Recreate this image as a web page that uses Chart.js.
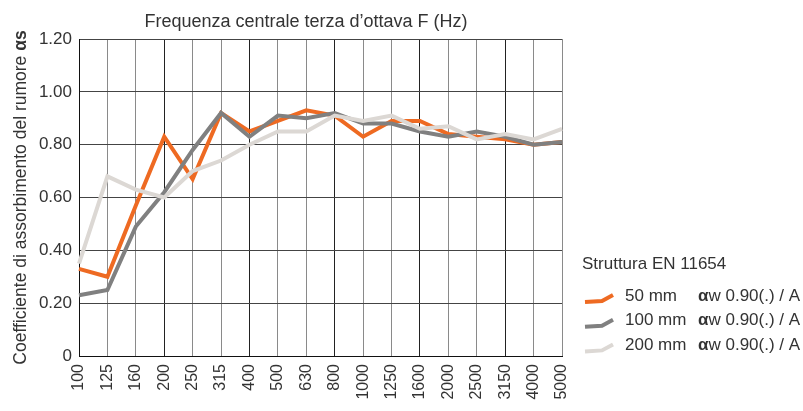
<!DOCTYPE html>
<html>
<head>
<meta charset="utf-8">
<script src="https://cdn.jsdelivr.net/npm/chart.js@4.4.0/dist/chart.umd.min.js"></script>
<style>
  html, body { margin: 0; padding: 0; background: #fff; }
  #wrap { width: 803px; height: 411px; position: relative; }
</style>
</head>
<body>
<div id="wrap"><canvas id="chart"></canvas></div>
<script>
const frequenze = ["100", "125", "160", "200", "250", "315", "400", "500", "630", "800",
  "1000", "1250", "1600", "2000", "2500", "3150", "4000", "5000"];
const valori50 = [0.33, 0.30, 0.57, 0.83, 0.67, 0.92, 0.85, 0.89, 0.93, 0.91,
  0.83, 0.89, 0.89, 0.84, 0.83, 0.82, 0.80, 0.81];
const valori100 = [0.23, 0.25, 0.49, 0.62, 0.78, 0.92, 0.83, 0.91, 0.90, 0.92,
  0.88, 0.88, 0.85, 0.83, 0.85, 0.83, 0.80, 0.81];
const valori200 = [0.35, 0.68, 0.63, 0.60, 0.70, 0.74, 0.80, 0.85, 0.85, 0.91,
  0.89, 0.91, 0.86, 0.87, 0.82, 0.84, 0.82, 0.86];
const spessori = ["50 mm", "100 mm", "200 mm"];
const indici = ["0.90(.) / A", "0.90(.) / A", "0.90(.) / A"];
const colori = ["#ee6a22", "#808080", "#dcd8d4"];

const titolo = "Frequenza centrale terza d\u2019ottava F (Hz)";
const titoloY = "Coefficiente di assorbimento del rumore ";
const legendaTitolo = "Struttura EN 11654";
const font = '"Liberation Sans", Arial, sans-serif';

// titolo, asse y e legenda disegnati a mano
const decorazioni = {
  id: "decorazioni",
  afterDraw(chart) {
    const ctx = chart.ctx;
    const a = chart.chartArea;
    ctx.save();
    ctx.fillStyle = "#333";
    ctx.textBaseline = "middle";

    ctx.font = "18px " + font;
    ctx.textAlign = "center";
    ctx.fillText(titolo, 306, 22);

    // titolo asse y con "αs" in grassetto
    ctx.save();
    ctx.translate(21, (a.top + a.bottom) / 2);
    ctx.rotate(-Math.PI / 2);
    ctx.textAlign = "left";
    ctx.font = "17.5px " + font;
    const w1 = ctx.measureText(titoloY).width;
    ctx.font = "bold 17.5px " + font;
    const w2 = ctx.measureText("\u03b1s").width;
    let x = -(w1 + w2) / 2;
    ctx.font = "17.5px " + font;
    ctx.fillText(titoloY, x, 0);
    ctx.font = "bold 17.5px " + font;
    ctx.fillText("\u03b1s", x + w1, 0);
    ctx.restore();

    // legenda
    ctx.textAlign = "left";
    ctx.font = "17px " + font;
    ctx.fillText(legendaTitolo, 582, 264);
    spessori.forEach((s, i) => {
      const y = 296 + i * 24.7;
      ctx.strokeStyle = colori[i];
      ctx.lineWidth = 4;
      ctx.lineJoin = "miter";
      ctx.beginPath();
      ctx.moveTo(585, y + 6);
      ctx.lineTo(602, y + 5);
      ctx.lineTo(613, y - 1);
      ctx.stroke();
      ctx.fillStyle = "#333";
      ctx.font = "17px " + font;
      ctx.fillText(s, 625, y);
      ctx.font = "bold 17px " + font;
      ctx.fillText("\u03b1", 698, y);
      const wa = ctx.measureText("\u03b1").width;
      ctx.font = "17px " + font;
      ctx.fillText("w " + indici[i], 698 + wa, y);
    });
    ctx.restore();
  }
};

function serie(label, data, colore, ordine) {
  return {
    label: label,
    data: data,
    borderColor: colore,
    backgroundColor: colore,
    borderWidth: 4,
    borderJoinStyle: "miter",
    pointRadius: 0,
    tension: 0,
    fill: false,
    order: ordine
  };
}

const ctx = document.getElementById("chart").getContext("2d");
new Chart(ctx, {
  type: "line",
  data: {
    labels: frequenze,
    datasets: [
      serie(spessori[0], valori50, colori[0], 2),
      serie(spessori[1], valori100, colori[1], 1),
      serie(spessori[2], valori200, colori[2], 0)
    ]
  },
  options: {
    responsive: true,
    maintainAspectRatio: false,
    animation: false,
    layout: { padding: { top: 39, right: 241, left: 0, bottom: 0 } },
    plugins: {
      legend: { display: false },
      title: { display: false },
      tooltip: { enabled: false }
    },
    scales: {
      x: {
        offset: false,
        afterFit: scale => { scale.height = 55; },
        grid: {
          drawTicks: false,
          color: c => (c.index % 3 === 0 ? "#222" : "#8a8a8a"),
          lineWidth: 1
        },
        border: { color: "#111", width: 1 },
        ticks: {
          autoSkip: false,
          maxRotation: 90,
          minRotation: 90,
          padding: 8,
          color: "#333",
          font: { family: font, size: 16 }
        }
      },
      y: {
        min: 0,
        max: 1.2,
        afterFit: scale => { scale.width = 79; },
        grid: { drawTicks: false, color: "#444", lineWidth: 1 },
        border: { color: "#111", width: 1 },
        ticks: {
          stepSize: 0.2,
          padding: 7,
          color: "#333",
          font: { family: font, size: 17 },
          callback: v => (Math.abs(v) < 1e-9 ? "0" : v.toFixed(2))
        }
      }
    }
  },
  plugins: [decorazioni]
});
</script>
</body>
</html>
